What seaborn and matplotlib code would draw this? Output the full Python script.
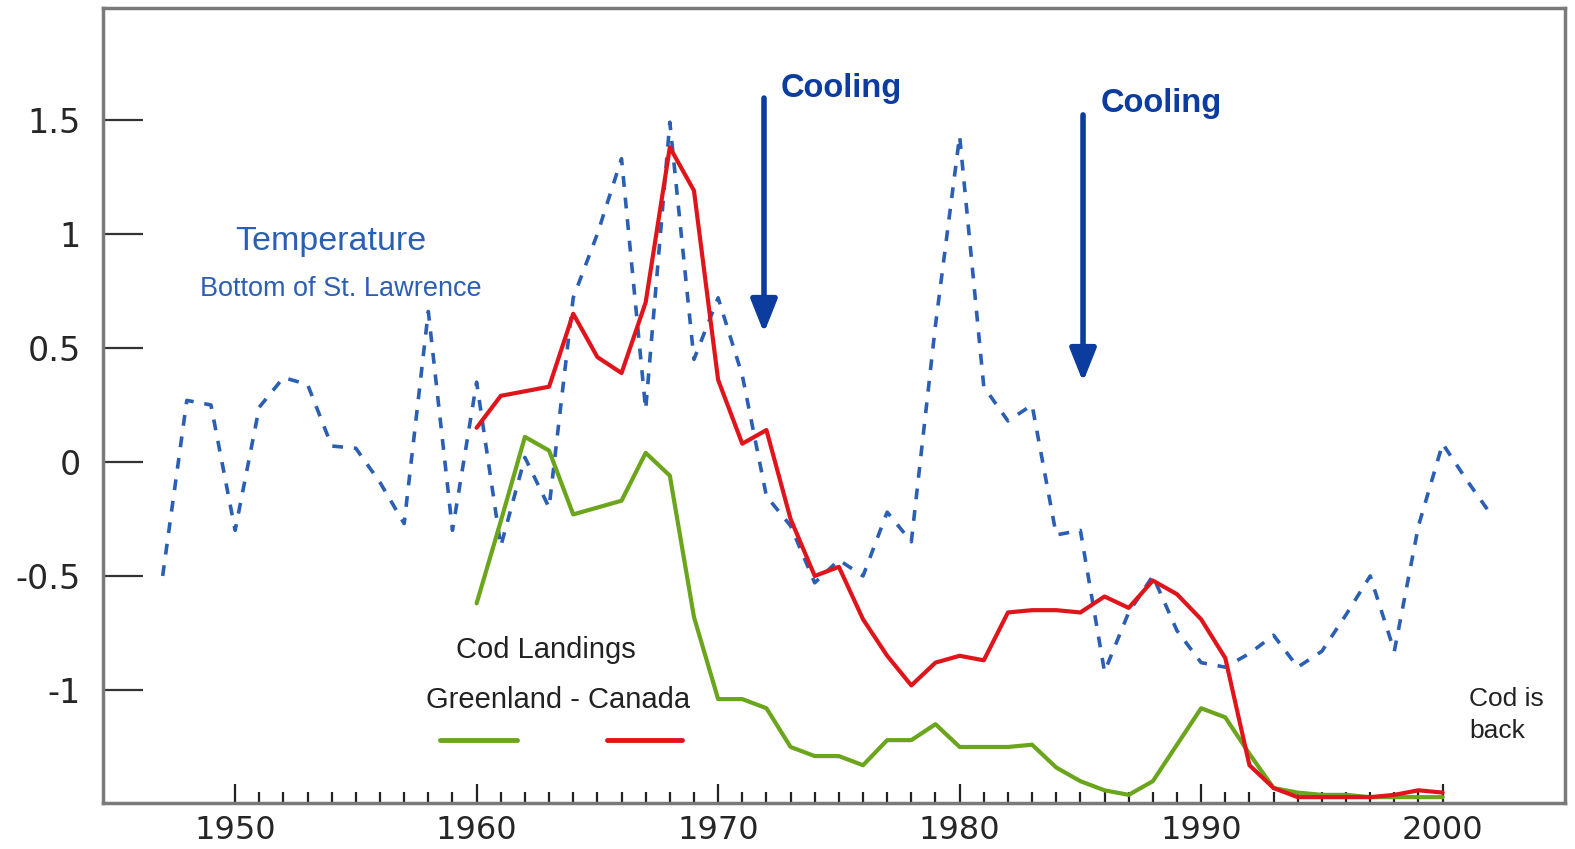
import numpy as np
import pandas as pd
import matplotlib.pyplot as plt
import seaborn as sns

# bottom water temperature anomaly, St. Lawrence
temp_years = list(range(1947, 2003))
temp_values = [-0.50, 0.27, 0.25, -0.30, 0.24, 0.37, 0.34, 0.07, 0.06, -0.09,
               -0.27, 0.66, -0.30, 0.35, -0.37, 0.02, -0.20, 0.72, 1.00, 1.33,
               0.23, 1.49, 0.45, 0.72, 0.38, -0.15, -0.28, -0.53, -0.43, -0.50,
               -0.22, -0.35, 0.60, 1.43, 0.33, 0.18, 0.25, -0.32, -0.30, -0.92,
               -0.66, -0.50, -0.74, -0.88, -0.90, -0.84, -0.76, -0.90, -0.83, -0.67,
               -0.50, -0.83, -0.28, 0.08, -0.08, -0.23]

# cod landings (scaled)
cod_years = list(range(1960, 2001))
canada = [0.15, 0.29, 0.31, 0.33, 0.65, 0.46, 0.39, 0.70, 1.38, 1.19,
          0.36, 0.08, 0.14, -0.25, -0.50, -0.46, -0.69, -0.85, -0.98, -0.88,
          -0.85, -0.87, -0.66, -0.65, -0.65, -0.66, -0.59, -0.64, -0.52, -0.58,
          -0.69, -0.86, -1.33, -1.43, -1.47, -1.47, -1.47, -1.47, -1.46, -1.44, -1.45]
greenland = [-0.62, -0.26, 0.11, 0.05, -0.23, -0.20, -0.17, 0.04, -0.06, -0.68,
             -1.04, -1.04, -1.08, -1.25, -1.29, -1.29, -1.33, -1.22, -1.22, -1.15,
             -1.25, -1.25, -1.25, -1.24, -1.34, -1.40, -1.44, -1.46, -1.40, -1.24,
             -1.08, -1.12, -1.28, -1.43, -1.45, -1.46, -1.46, -1.47, -1.47, -1.47, -1.47]

y_ticks = [-1, -0.5, 0, 0.5, 1, 1.5]
y_labels = ["-1", "-0.5", "0", "0.5", "1", "1.5"]
x_ticks = [1950, 1960, 1970, 1980, 1990, 2000]

temp = pd.DataFrame({"year": temp_years, "value": temp_values})
cod = pd.DataFrame({"year": cod_years, "canada": canada, "greenland": greenland})

sns.set_style("white")
plt.rcParams['font.family'] = ['Liberation Sans', 'DejaVu Sans']

fig = plt.figure(figsize=(15.75, 8.49), dpi=100)
ax = fig.add_axes([0.0654, 0.0542, 0.9283, 0.9364])

blue = "#2a5fb4"
dark_blue = "#0b3c9e"
red = "#e0151c"
green = "#6aa51c"

sns.lineplot(data=temp, x="year", y="value", ax=ax, color=blue, lw=2.6,
             linestyle=(0, (3, 3)))
sns.lineplot(data=cod, x="year", y="greenland", ax=ax, color=green, lw=3)
sns.lineplot(data=cod, x="year", y="canada", ax=ax, color=red, lw=3)

ax.set_xlim(1944.53, 2005.07)
ax.set_ylim(-1.4956, 1.991)
ax.set_xlabel("")
ax.set_ylabel("")

# axes / ticks
for s in ax.spines.values():
    s.set_visible(True)
    s.set_color("#7a7a7a")
    s.set_linewidth(2.5)

ax.set_yticks(y_ticks)
ax.set_yticklabels(y_labels, fontfamily="DejaVu Sans", fontsize=24)
ax.set_xticks(x_ticks)
ax.set_xticklabels([str(x) for x in x_ticks], fontfamily="DejaVu Sans", fontsize=23)
ax.set_xticks(range(1950, 2001), minor=True)
ax.tick_params(axis="y", direction="in", length=29, width=1.6, color="#333333",
               pad=16, left=True)
ax.tick_params(axis="x", which="major", direction="in", length=14, width=1.6,
               color="#222222", pad=9, bottom=True)
ax.tick_params(axis="x", which="minor", direction="in", length=8, width=1.6,
               color="#222222", bottom=True)

# annotations
ax.text(1953.98, 0.969, "Temperature", color=blue, fontsize=24.5, ha="center", va="center")
ax.text(1954.39, 0.759, "Bottom of St. Lawrence", color=blue, fontsize=19.5,
        ha="center", va="center")

for x0, y0, y1, tx, ty in [(1971.9, 1.596, 0.566, 1972.57, 1.64),
                           (1985.11, 1.522, 0.351, 1985.82, 1.57)]:
    ax.annotate("", xy=(x0, y1), xytext=(x0, y0),
                arrowprops=dict(arrowstyle="-|>,head_width=0.8,head_length=2.0",
                                color=dark_blue, lw=4, shrinkA=0, shrinkB=0))
    ax.text(tx, ty, "Cooling", color=dark_blue, fontsize=23.5, fontweight="bold",
            ha="left", va="center")

ax.text(1962.88, -0.825, "Cod Landings", color="#222222", fontsize=21,
        ha="center", va="center")
ax.text(1963.37, -1.044, "Greenland - Canada", color="#222222", fontsize=21,
        ha="center", va="center")
ax.plot([0.2305, 0.2832], [0.0792, 0.0792], color=green, lw=3.5, transform=ax.transAxes)
ax.plot([0.3447, 0.3960], [0.0792, 0.0792], color=red, lw=3.5, transform=ax.transAxes)

ax.text(2001.1, -1.11, "Cod is\nback", color="#222222", fontsize=19,
        ha="left", va="center", linespacing=1.45)

fig.savefig("out.png", dpi=100)
